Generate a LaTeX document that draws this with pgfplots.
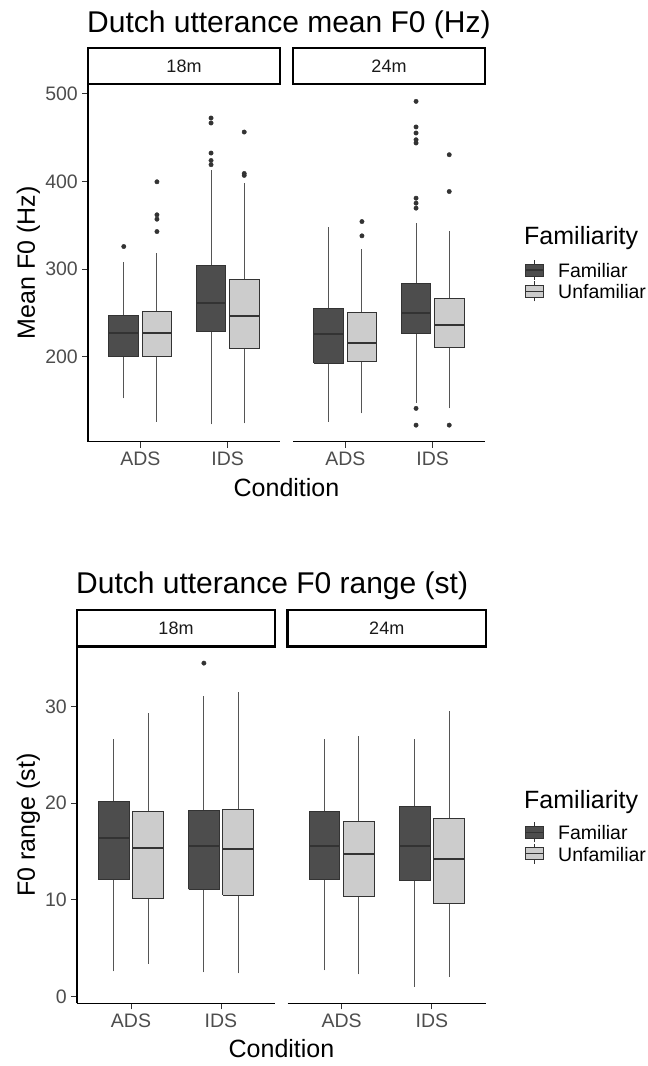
\documentclass[border=0pt]{standalone}
\usepackage{pgfplots}
\pgfplotsset{compat=1.18}
\usepackage{fontspec}
\setmainfont{Liberation Sans}
\definecolor{c33}{HTML}{333333}
\definecolor{c4d}{HTML}{4D4D4D}
\definecolor{ccc}{HTML}{CCCCCC}
\definecolor{c1a}{HTML}{1A1A1A}
\definecolor{cwh}{HTML}{555555}
\pgfplotsset{
  wh/.style={draw=cwh, line width=1pt},
  med/.style={draw=c33, line width=2pt},
  famb/.style={draw=c33, fill=c4d, line width=1pt},
  unfb/.style={draw=c33, fill=ccc, line width=1pt},
  out/.style={only marks, mark=*, mark size=2.2pt, draw=c33, fill=c33},
  panel/.style={scale only axis, anchor=south west, clip=false,
    axis x line*=bottom, axis line style={line width=1.1pt, black, -},
    tick align=outside, major tick length=6pt, tick style={line width=1pt, draw=c33},
    xmin=0.4, xmax=2.6, xtick={1,2}, xticklabels={ADS,IDS},
    xticklabel style={font=\fontsize{19.5}{20}\selectfont, text=c4d, inner sep=0pt, anchor=north, yshift=-4pt},
    yticklabel style={font=\fontsize{19.5}{20}\selectfont, text=c4d, inner sep=0pt, anchor=east, xshift=-4pt}},
  pleft/.style={axis y line*=left},
  pright/.style={axis y line=none},
}
% #1 box style, #2 centre, #3 left, #4 right, #5 lower whisker, #6 lower quartile, #7 median, #8 upper quartile, #9 upper whisker
\newcommand\bx[9]{%
  \addplot[wh] coordinates {(#2,#5) (#2,#6)};
  \addplot[wh] coordinates {(#2,#8) (#2,#9)};
  \addplot[#1] coordinates {(#3,#6) (#4,#6) (#4,#8) (#3,#8) (#3,#6)};
  \addplot[med] coordinates {(#3,#7) (#4,#7)};
}
\begin{document}
\begin{tikzpicture}
\path[use as bounding box] (0pt,0pt) rectangle (648pt,1066pt);
% ---------------- top figure ----------------
\begin{axis}[panel, pleft, at={(88pt,624.3pt)}, width=192pt, height=357.4pt,
  ymin=103, ymax=511, ytick={200,300,400,500}, yticklabels={200,300,400,500}]
% 18m
\bx{famb}{0.81}{0.64}{0.98}{152.4}{200}{226.7}{247.3}{308.6}
\bx{unfb}{1.19}{1.02}{1.36}{125.7}{200}{226.7}{251.4}{318.2}
\bx{famb}{1.81}{1.64}{1.98}{122.7}{228.6}{261}{304}{413.4}
\bx{unfb}{2.19}{2.02}{2.36}{123.8}{209.6}{246.9}{287.7}{398.2}
\addplot[out] coordinates {(0.81,325.8) (1.19,399.7) (1.19,362) (1.19,357) (1.19,342.9)
  (1.81,472.5) (1.81,466.8) (1.81,432.5) (1.81,424) (1.81,419.2)
  (2.19,456.5) (2.19,409.2) (2.19,407)};
\end{axis}
\begin{axis}[panel, pright, at={(293pt,624.3pt)}, width=192pt, height=357.4pt,
  ymin=103, ymax=511]
% 24m
\bx{famb}{0.81}{0.64}{0.98}{125.7}{192.4}{226}{254.9}{348.6}
\bx{unfb}{1.19}{1.02}{1.36}{135.2}{194.3}{215.7}{250.8}{322.8}
\bx{famb}{1.81}{1.64}{1.98}{147.4}{226.7}{250.3}{283.1}{353.2}
\bx{unfb}{2.19}{2.02}{2.36}{141}{210.7}{236.2}{266.8}{344}
\addplot[out] coordinates {(1.19,354.3) (1.19,338)
  (1.81,491.5) (1.81,462.3) (1.81,455.4) (1.81,447.7) (1.81,444) (1.81,381) (1.81,375.3) (1.81,369.6) (1.81,141) (1.81,121.9)
  (2.19,430.6) (2.19,388.6) (2.19,121.9)};
\end{axis}
% ---------------- bottom figure ----------------
\begin{axis}[panel, pleft, at={(77pt,62.7pt)}, width=198pt, height=356.6pt,
  ymin=-0.7, ymax=36.2, ytick={0,10,20,30}, yticklabels={0,10,20,30}]
\bx{famb}{0.81}{0.64}{0.98}{2.6}{12.1}{16.36}{20.2}{26.66}
\bx{unfb}{1.19}{1.02}{1.36}{3.4}{10.1}{15.4}{19.1}{29.3}
\bx{famb}{1.81}{1.64}{1.98}{2.5}{11.1}{15.6}{19.2}{31.1}
\bx{unfb}{2.19}{2.02}{2.36}{2.4}{10.5}{15.3}{19.4}{31.5}
\addplot[out] coordinates {(1.81,34.5)};
\end{axis}
\begin{axis}[panel, pright, at={(287.5pt,62.7pt)}, width=198.5pt, height=356.6pt,
  ymin=-0.7, ymax=36.2]
\bx{famb}{0.81}{0.64}{0.98}{2.7}{12.1}{15.6}{19.1}{26.7}
\bx{unfb}{1.19}{1.02}{1.36}{2.3}{10.4}{14.7}{18.15}{27.0}
\bx{famb}{1.81}{1.64}{1.98}{1.0}{12.0}{15.6}{19.7}{26.6}
\bx{unfb}{2.19}{2.02}{2.36}{2.0}{9.6}{14.2}{18.4}{29.5}
\end{axis}
\begin{scope}[x=1pt,y=1pt]
% top decorations
\node[anchor=base west, inner sep=0pt, font=\fontsize{30}{30}\selectfont, text=black] at (87,1033.7) {Dutch utterance mean F0 (Hz)};
\draw[line width=2.4pt, fill=white] (88,981.7) rectangle (280,1017.7);
\draw[line width=2.4pt, fill=white] (293,981.7) rectangle (485,1017.7);
\node[font=\fontsize{18}{18}\selectfont, text=c1a] at (184,999.7) {18m};
\node[font=\fontsize{18}{18}\selectfont, text=c1a] at (389,999.7) {24m};
\node[rotate=90, anchor=base, inner sep=0pt, font=\fontsize{25}{25}\selectfont] at (35,803) {Mean F0 (Hz)};
\node[anchor=base, inner sep=0pt, font=\fontsize{25}{25}\selectfont] at (286.5,569.5) {Condition};
\node[anchor=base west, inner sep=0pt, font=\fontsize{25}{25}\selectfont] at (524,821) {Familiarity};
\draw[c33, line width=0.9pt] (534,786) -- (534,806);
\draw[c33, line width=0.9pt, fill=c4d] (525,790) rectangle (543,802);
\draw[c33, line width=1.5pt] (525,796) -- (543,796);
\draw[c33, line width=0.9pt] (534,764.5) -- (534,784.5);
\draw[c33, line width=0.9pt, fill=ccc] (525,768.5) rectangle (543,780.5);
\draw[c33, line width=1.5pt] (525,774.5) -- (543,774.5);
\node[anchor=base west, inner sep=0pt, font=\fontsize{19.5}{20}\selectfont] at (558,788) {Familiar};
\node[anchor=base west, inner sep=0pt, font=\fontsize{19.5}{20}\selectfont] at (558,767) {Unfamiliar};
% bottom decorations
\node[anchor=base west, inner sep=0pt, font=\fontsize{30}{30}\selectfont, text=black] at (76,472.7) {Dutch utterance F0 range (st)};
\draw[line width=2.4pt, fill=white] (77,419.3) rectangle (275,456);
\draw[line width=2.4pt, fill=white] (287.5,419.3) rectangle (486,456);
\node[font=\fontsize{18}{18}\selectfont, text=c1a] at (176,437.7) {18m};
\node[font=\fontsize{18}{18}\selectfont, text=c1a] at (386.75,437.7) {24m};
\node[rotate=90, anchor=base, inner sep=0pt, font=\fontsize{25}{25}\selectfont] at (35,241) {F0 range (st)};
\node[anchor=base, inner sep=0pt, font=\fontsize{25}{25}\selectfont] at (281.5,8.5) {Condition};
\node[anchor=base west, inner sep=0pt, font=\fontsize{25}{25}\selectfont] at (524,257.7) {Familiarity};
\draw[c33, line width=0.9pt] (534,223.5) -- (534,243.5);
\draw[c33, line width=0.9pt, fill=c4d] (525,227.5) rectangle (543,239.5);
\draw[c33, line width=1.5pt] (525,233.5) -- (543,233.5);
\draw[c33, line width=0.9pt] (534,202.4) -- (534,222.4);
\draw[c33, line width=0.9pt, fill=ccc] (525,206.4) rectangle (543,218.4);
\draw[c33, line width=1.5pt] (525,212.4) -- (543,212.4);
\node[anchor=base west, inner sep=0pt, font=\fontsize{19.5}{20}\selectfont] at (558,226) {Familiar};
\node[anchor=base west, inner sep=0pt, font=\fontsize{19.5}{20}\selectfont] at (558,204.3) {Unfamiliar};
\end{scope}
\end{tikzpicture}
\end{document}
